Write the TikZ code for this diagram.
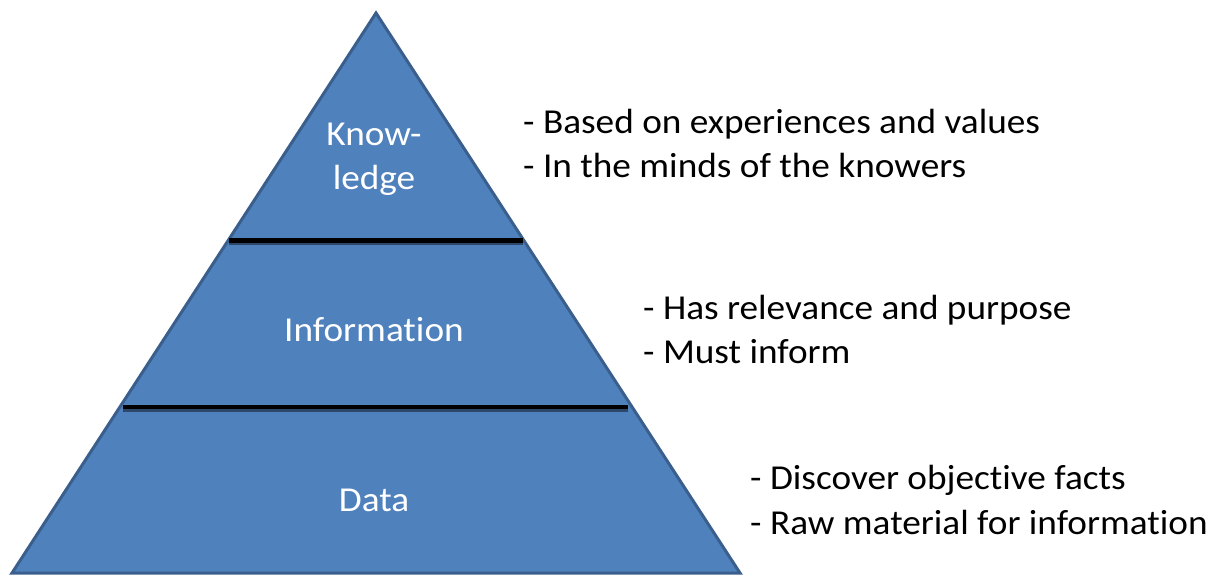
\documentclass[tikz,border=0pt]{standalone}
\usepackage{fontspec}
\usepackage{graphicx}
\setmainfont{Carlito}[Ligatures=NoCommon]
\definecolor{pyfill}{HTML}{4F81BD}
\definecolor{pyedge}{HTML}{3A5F8D}
\newcommand{\widetxt}[1]{\scalebox{1.065}[1]{#1}}
\begin{document}
\begin{tikzpicture}[x=1pt,y=-1pt,
  lab/.style={font=\fontsize{35}{43}\selectfont, inner sep=0pt},
  inlab/.style={lab, text=white, anchor=base},
  note/.style={lab, text=black, anchor=base west},
  divider/.style={line width=4.5pt, black}]
\useasboundingbox (0,0) rectangle (1216,576);
\coordinate (apex) at (376,13);
\coordinate (bl) at (12,573);
\coordinate (br) at (740,573);
\filldraw[fill=pyfill, draw=pyedge, line width=3pt, line join=miter] (apex) -- (br) -- (bl) -- cycle;
\coordinate (d1l) at (229,240.5);
\coordinate (d1r) at (523,240.5);
\coordinate (d2l) at (123,407);
\coordinate (d2r) at (628,407);
\draw[divider, black!25!pyedge, line width=4pt] ([yshift=-2.5pt]d1l) -- ([yshift=-2.5pt]d1r);
\draw[divider, black!25!pyedge, line width=4pt] ([yshift=-2.5pt]d2l) -- ([yshift=-2.5pt]d2r);
\draw[divider] (d1l) -- (d1r);
\draw[divider] (d2l) -- (d2r);
\node[inlab] (k1) at (374,145) {\widetxt{Know-}};
\node[inlab] (k2) at (374,189) {\widetxt{ledge}};
\node[inlab] (inf) at (374,341) {\widetxt{Information}};
\node[inlab] (dat) at (374,511) {\widetxt{Data}};
\node[note] (n1) at (523,133) {\widetxt{- Based on experiences and values}};
\node[note] (n2) at (523,177) {\widetxt{- In the minds of the knowers}};
\node[note] (n3) at (643,319) {\widetxt{- Has relevance and purpose}};
\node[note] (n4) at (643,363) {\widetxt{- Must inform}};
\node[note] (n5) at (750,489) {\widetxt{- Discover objective facts}};
\node[note] (n6) at (750,534) {\widetxt{- Raw material for information}};
\end{tikzpicture}
\end{document}
